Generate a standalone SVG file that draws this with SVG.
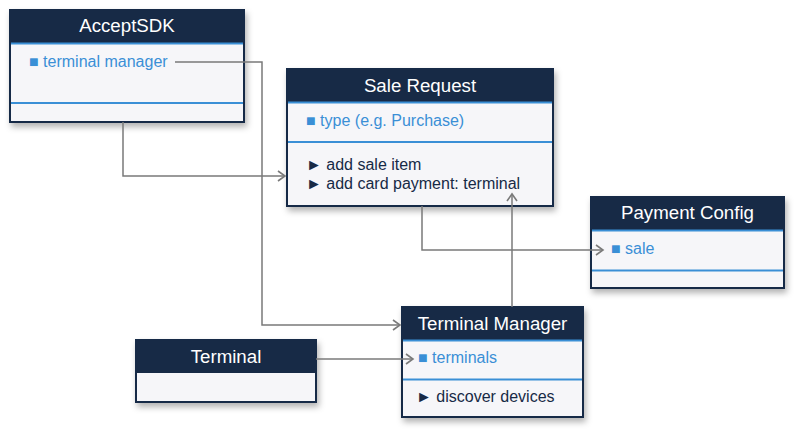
<svg xmlns="http://www.w3.org/2000/svg" width="800" height="433" viewBox="0 0 800 433">
<defs>
<filter id="sh" x="-10%" y="-10%" width="125%" height="130%">
<feDropShadow dx="2" dy="4" stdDeviation="3" flood-color="#000" flood-opacity="0.3"/>
</filter>
<marker id="arr" markerUnits="userSpaceOnUse" markerWidth="12" markerHeight="14" viewBox="-9 -7 11 14" refX="0" refY="0" orient="auto">
<path d="M-7,-5 L0,0 L-7,5" fill="none" stroke="#7a7a7a" stroke-width="1.6"/>
</marker>
<style>
.box{fill:#f6f6f9;stroke:#172a46;stroke-width:2;filter:url(#sh)}
.hdr{fill:#172a46}
.sep{fill:#3a8fd6}
.title{font-family:"Liberation Sans",Arial,sans-serif;font-size:18.7px;fill:#ffffff;text-anchor:middle}
.attr{font-family:"Liberation Sans",Arial,sans-serif;font-size:16px;fill:#3a8fd6}
.meth{font-family:"Liberation Sans",Arial,sans-serif;font-size:16px;fill:#172a46}
.con{fill:none;stroke:#7a7a7a;stroke-width:1.5;marker-end:url(#arr)}
</style>
</defs>
<rect width="800" height="433" fill="#ffffff"/>

<g id="AcceptSDK">
<rect class="box" x="10" y="10" width="234" height="112"/>
<rect class="hdr" x="10" y="10" width="234" height="33"/>
<rect class="sep" x="11" y="42.5" width="232" height="2"/>
<rect class="sep" x="11" y="102" width="232" height="2"/>
<text class="title" x="127" y="32">AcceptSDK</text>
<text class="attr" x="29" y="67">■ terminal manager</text>
</g>

<g id="SaleRequest">
<rect class="box" x="287" y="69" width="266" height="137"/>
<rect class="hdr" x="287" y="69" width="266" height="33"/>
<rect class="sep" x="288" y="101.5" width="264" height="2"/>
<rect class="sep" x="288" y="141" width="264" height="2"/>
<text class="title" x="420" y="92">Sale Request</text>
<text class="attr" x="306" y="126">■ type (e.g. Purchase)</text>
<text class="meth" x="306" y="170">► add sale item</text>
<text class="meth" x="306" y="189">► add card payment: terminal</text>
</g>

<g id="PaymentConfig">
<rect class="box" x="591" y="197" width="193" height="91"/>
<rect class="hdr" x="591" y="197" width="193" height="33"/>
<rect class="sep" x="592" y="229.5" width="191" height="2"/>
<rect class="sep" x="592" y="269.5" width="191" height="2"/>
<text class="title" x="687.5" y="219">Payment Config</text>
<text class="attr" x="611" y="254">■ sale</text>
</g>

<g id="TerminalManager">
<rect class="box" x="402" y="307" width="181" height="110"/>
<rect class="hdr" x="402" y="307" width="181" height="33"/>
<rect class="sep" x="403" y="339.5" width="179" height="2"/>
<rect class="sep" x="403" y="378.5" width="179" height="2"/>
<text class="title" x="492.5" y="330">Terminal Manager</text>
<text class="attr" x="418" y="363">■ terminals</text>
<text class="meth" x="416" y="402">► discover devices</text>
</g>

<g id="Terminal">
<rect class="box" x="136" y="340" width="180" height="62"/>
<rect class="hdr" x="136" y="340" width="180" height="33"/>
<text class="title" x="226" y="363">Terminal</text>
</g>

<g id="connectors">
<path class="con" d="M175,62 H262 V325 H400"/>
<path class="con" d="M123,122 V176 H285"/>
<path class="con" d="M422,206 V250 H603"/>
<path class="con" d="M316,359 H413"/>
<path class="con" d="M512,307 V194"/>
</g>
</svg>
